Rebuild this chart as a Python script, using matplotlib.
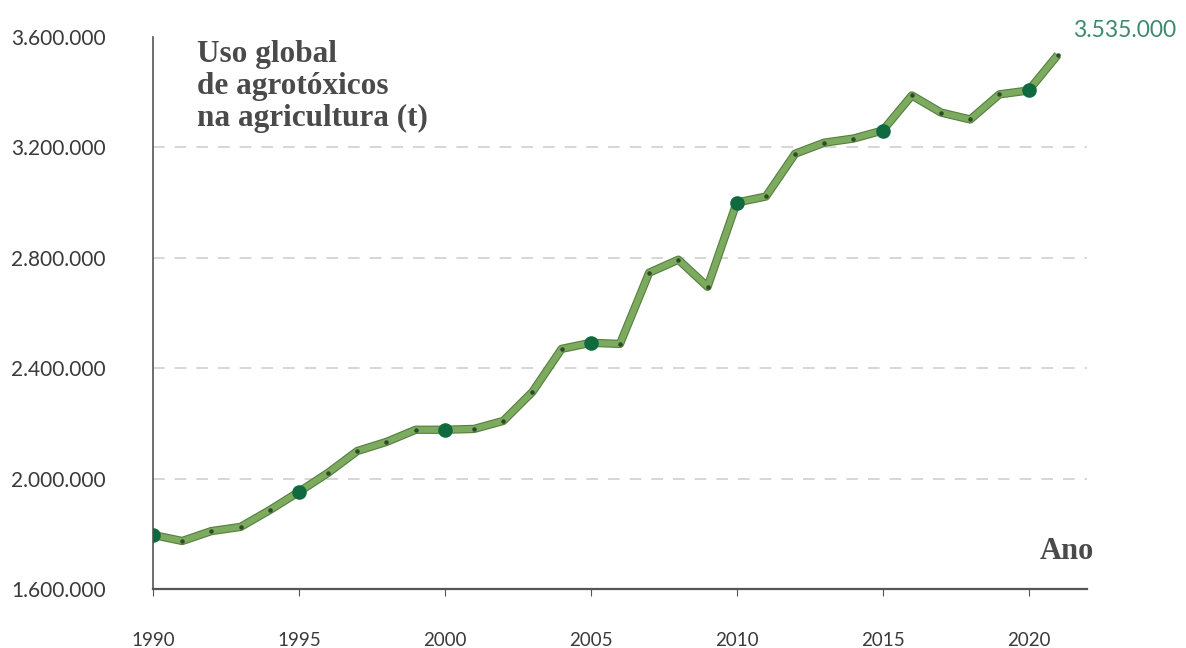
import matplotlib.pyplot as plt
from matplotlib.ticker import FuncFormatter

# uso global de agrotoxicos, toneladas por ano
anos = list(range(1990, 2022))
toneladas = [1796000, 1774000, 1810000, 1825000, 1886000, 1952000, 2021000, 2100000,
             2133000, 2177000, 2177000, 2180000, 2209000, 2314000, 2470000, 2492000,
             2488000, 2746000, 2793000, 2695000, 3000000, 3022000, 3177000, 3217000,
             3232000, 3261000, 3388000, 3326000, 3301000, 3392000, 3406000, 3535000]
anos_destaque = [1990, 1995, 2000, 2005, 2010, 2015, 2020]
yticks = [1600000, 2000000, 2400000, 2800000, 3200000, 3600000]

verde = "#7caa5e"
verde_borda = "#557f3e"
verde_escuro = "#0f6b3f"
cinza = "#3a3a3a"

fig = plt.figure(figsize=(11.86, 6.48), dpi=100)
ax = fig.add_axes([0.129, 0.091, 0.7875, 0.852])

# linha com contorno escuro
ax.plot(anos, toneladas, color=verde_borda, lw=6.0, solid_capstyle="butt", zorder=3)
ax.plot(anos, toneladas, color=verde, lw=4.4, solid_capstyle="butt", zorder=4)
ax.scatter(anos, toneladas, s=5, color="#2f4a2a", zorder=5)

destaque = [toneladas[anos.index(a)] for a in anos_destaque]
ax.scatter(anos_destaque, destaque, s=90, color=verde_escuro, zorder=6)

ax.annotate(f"{toneladas[-1]:,}".replace(",", "."), xy=(anos[-1], toneladas[-1]),
            xytext=(11, 10), textcoords="offset points", ha="left", va="bottom",
            fontsize=16.5, color="#3c8a6c", family="Lato")

ax.set_xlim(1990, 2022)
ax.set_ylim(1600000, 3600000)
ax.set_xticks(anos_destaque)
ax.set_yticks(yticks)
ax.yaxis.set_major_formatter(FuncFormatter(lambda v, p: f"{int(v):,}".replace(",", ".")))

for v in yticks[1:-1]:
    ax.axhline(v, color="#cfcfcf", lw=1.2, ls=(0, (7, 6)), zorder=1)

for s in ["top", "right"]:
    ax.spines[s].set_visible(False)
ax.spines["left"].set_color("#555555")
ax.spines["bottom"].set_color("#555555")
ax.spines["left"].set_linewidth(1.2)
ax.spines["bottom"].set_linewidth(1.6)

ax.tick_params(axis="y", length=0, pad=34, labelsize=15, labelcolor=cinza)
ax.tick_params(axis="x", length=5, direction="out", color="#555555", pad=26,
               labelsize=13.5, labelcolor=cinza)
for lab in ax.get_xticklabels() + ax.get_yticklabels():
    lab.set_family("Lato")

ax.text(0.047, 0.995, "Uso global\nde agrotóxicos\nna agricultura (t)",
        transform=ax.transAxes, ha="left", va="top", fontsize=22.5,
        fontweight="bold", family="Liberation Serif", color="#4a4a4a", linespacing=1.15)
ax.text(1.007, 0.068, "Ano", transform=ax.transAxes, ha="right", va="center",
        fontsize=22, fontweight="bold", family="Liberation Serif", color="#4a4a4a")

fig.savefig("out.png", dpi=100)
